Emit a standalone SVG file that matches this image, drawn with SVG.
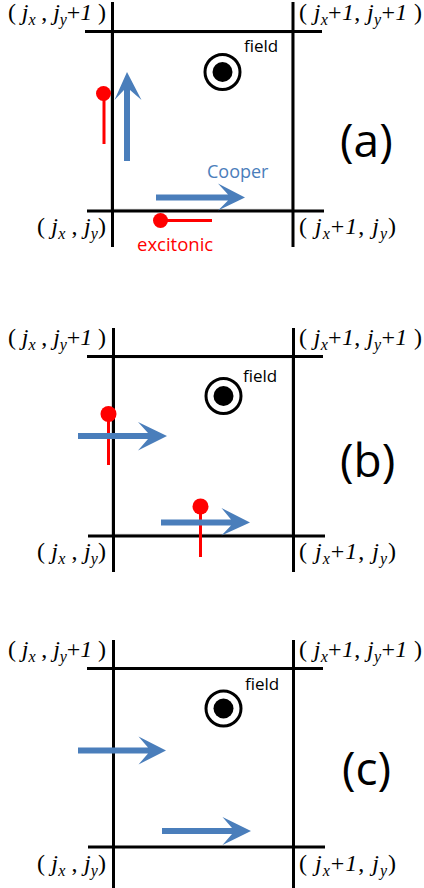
<svg xmlns="http://www.w3.org/2000/svg" width="424" height="888" viewBox="0 0 424 888">
<style>
.grid{stroke:#000;stroke-width:3;fill:none}
.inner{stroke:#c8c8c8;stroke-width:1.5;fill:none}
.pin{stroke:#ff0000;stroke-width:3;fill:none}
.dot{fill:#ff0000}
.arrow{fill:#4a7ebb}
.lbl{font-family:"Liberation Serif","Times New Roman",serif;font-size:24px;fill:#000}
.i{font-style:italic}
.s{font-style:italic;font-size:16px}
.field{font-family:"Open Sans","Liberation Sans",sans-serif;font-size:17px;fill:#000}
.tag{font-family:"Open Sans","Liberation Sans",sans-serif;font-size:46px;fill:#000}
.cooper{font-family:"Open Sans","Liberation Sans",sans-serif;font-size:18px;fill:#4a7ebb}
.exc{font-family:"Open Sans","Liberation Sans",sans-serif;font-size:18.5px;fill:#ff0000}
</style>
<defs>
<g id="fieldsym">
<circle cx="0" cy="0" r="17.5" fill="none" stroke="#000" stroke-width="3"/>
<circle cx="0" cy="0" r="10" fill="#000"/>
</g>
</defs>

<!-- Panel (a) -->
<g id="panel-a">
<g id="a-cell">
<rect class="inner" x="111" y="32.5" width="181" height="177"/>
<line class="grid" x1="112.5" y1="2" x2="112.5" y2="247"/>
<line class="grid" x1="293" y1="2" x2="293" y2="247"/>
<line class="grid" x1="85" y1="31.5" x2="322" y2="31.5"/>
<line class="grid" x1="87" y1="211" x2="324" y2="211"/>
</g>
<g id="a-field">
<use href="#fieldsym" x="222.5" y="72"/>
<text class="field" x="244" y="52">field</text>
</g>
<g id="a-excitonic">
<line class="pin" x1="104" y1="94" x2="104" y2="144"/>
<circle class="dot" cx="103.5" cy="93.5" r="7.5"/>
<line class="pin" x1="160" y1="220.5" x2="212" y2="220.5"/>
<circle class="dot" cx="160.5" cy="220.5" r="7.5"/>
<text class="exc" x="137" y="251">excitonic</text>
</g>
<g id="a-cooper">
<path class="arrow" d="M124,161 L124,90 L114.5,100 L127,72 L141.5,100 L130,90 L130,161 Z"/>
<path class="arrow" d="M156,194.5 L228,194.5 L218,183.5 L245,197.5 L218,210.5 L228,200.5 L156,200.5 Z"/>
<text class="cooper" x="207" y="178">Cooper</text>
</g>
<g id="a-labels">
<text class="lbl" x="8" y="20" textLength="98" lengthAdjust="spacing">( <tspan class="i">j</tspan><tspan class="s" dy="5">x</tspan><tspan dy="-5"> , </tspan><tspan class="i">j</tspan><tspan class="s" dy="5">y</tspan><tspan dy="-5">+</tspan><tspan class="i">1</tspan> )</text>
<text class="lbl" x="299" y="20" textLength="123" lengthAdjust="spacing">( <tspan class="i">j</tspan><tspan class="s" dy="5">x</tspan><tspan dy="-5">+</tspan><tspan class="i">1</tspan>, <tspan class="i">j</tspan><tspan class="s" dy="5">y</tspan><tspan dy="-5">+</tspan><tspan class="i">1</tspan> )</text>
<text class="lbl" x="37" y="234" textLength="69" lengthAdjust="spacing">( <tspan class="i">j</tspan><tspan class="s" dy="5">x</tspan><tspan dy="-5"> , </tspan><tspan class="i">j</tspan><tspan class="s" dy="5">y</tspan><tspan dy="-5">)</tspan></text>
<text class="lbl" x="299" y="234" textLength="97" lengthAdjust="spacing">( <tspan class="i">j</tspan><tspan class="s" dy="5">x</tspan><tspan dy="-5">+</tspan><tspan class="i">1</tspan>, <tspan class="i">j</tspan><tspan class="s" dy="5">y</tspan><tspan dy="-5">)</tspan></text>
<text class="tag" x="340" y="157">(a)</text>
</g>
</g>

<!-- Panel (b) -->
<g id="panel-b">
<g id="b-cell">
<rect class="inner" x="112" y="357.5" width="180" height="177"/>
<line class="grid" x1="113.5" y1="328" x2="113.5" y2="572"/>
<line class="grid" x1="293.5" y1="328" x2="293.5" y2="572"/>
<line class="grid" x1="87" y1="356.5" x2="323" y2="356.5"/>
<line class="grid" x1="88" y1="536" x2="325" y2="536"/>
</g>
<g id="b-field">
<use href="#fieldsym" x="223.5" y="396"/>
<text class="field" x="243" y="382">field</text>
</g>
<g id="b-excitonic">
<line class="pin" x1="108.5" y1="414" x2="108.5" y2="465"/>
<circle class="dot" cx="108.5" cy="414" r="8"/>
<line class="pin" x1="200.5" y1="507" x2="200.5" y2="557"/>
<circle class="dot" cx="200.5" cy="506.5" r="8"/>
</g>
<g id="b-cooper">
<path class="arrow" d="M78,433 L148,433 L138,422 L167,436 L138,450.5 L148,439 L78,439 Z"/>
<path class="arrow" d="M161,519.5 L231,519.5 L221.5,508 L250,522.5 L221.5,535.5 L231,525.5 L161,525.5 Z"/>
</g>
<g id="b-labels">
<text class="lbl" x="8" y="345" textLength="98" lengthAdjust="spacing">( <tspan class="i">j</tspan><tspan class="s" dy="5">x</tspan><tspan dy="-5"> , </tspan><tspan class="i">j</tspan><tspan class="s" dy="5">y</tspan><tspan dy="-5">+</tspan><tspan class="i">1</tspan> )</text>
<text class="lbl" x="299" y="345" textLength="123" lengthAdjust="spacing">( <tspan class="i">j</tspan><tspan class="s" dy="5">x</tspan><tspan dy="-5">+</tspan><tspan class="i">1</tspan>, <tspan class="i">j</tspan><tspan class="s" dy="5">y</tspan><tspan dy="-5">+</tspan><tspan class="i">1</tspan> )</text>
<text class="lbl" x="37" y="559" textLength="69" lengthAdjust="spacing">( <tspan class="i">j</tspan><tspan class="s" dy="5">x</tspan><tspan dy="-5"> , </tspan><tspan class="i">j</tspan><tspan class="s" dy="5">y</tspan><tspan dy="-5">)</tspan></text>
<text class="lbl" x="299" y="559" textLength="97" lengthAdjust="spacing">( <tspan class="i">j</tspan><tspan class="s" dy="5">x</tspan><tspan dy="-5">+</tspan><tspan class="i">1</tspan>, <tspan class="i">j</tspan><tspan class="s" dy="5">y</tspan><tspan dy="-5">)</tspan></text>
<text class="tag" x="340" y="477">(b)</text>
</g>
</g>

<!-- Panel (c) -->
<g id="panel-c">
<g id="c-cell">
<line class="grid" x1="113.5" y1="640" x2="113.5" y2="888"/>
<line class="grid" x1="293.5" y1="640" x2="293.5" y2="888"/>
<line class="grid" x1="87" y1="668.5" x2="323" y2="668.5"/>
<line class="grid" x1="88" y1="847" x2="325" y2="847"/>
</g>
<g id="c-field">
<use href="#fieldsym" x="223.5" y="708.5"/>
<text class="field" x="245" y="690">field</text>
</g>
<g id="c-cooper">
<path class="arrow" d="M78,747.5 L148,747.5 L138.5,736.5 L166,750.5 L138.5,764.5 L148,753.5 L78,753.5 Z"/>
<path class="arrow" d="M162,828 L232,828 L222.5,817 L251,831 L222.5,845 L232,834 L162,834 Z"/>
</g>
<g id="c-labels">
<text class="lbl" x="8" y="657" textLength="98" lengthAdjust="spacing">( <tspan class="i">j</tspan><tspan class="s" dy="5">x</tspan><tspan dy="-5"> , </tspan><tspan class="i">j</tspan><tspan class="s" dy="5">y</tspan><tspan dy="-5">+</tspan><tspan class="i">1</tspan> )</text>
<text class="lbl" x="299" y="657" textLength="123" lengthAdjust="spacing">( <tspan class="i">j</tspan><tspan class="s" dy="5">x</tspan><tspan dy="-5">+</tspan><tspan class="i">1</tspan>, <tspan class="i">j</tspan><tspan class="s" dy="5">y</tspan><tspan dy="-5">+</tspan><tspan class="i">1</tspan> )</text>
<text class="lbl" x="37" y="871" textLength="69" lengthAdjust="spacing">( <tspan class="i">j</tspan><tspan class="s" dy="5">x</tspan><tspan dy="-5"> , </tspan><tspan class="i">j</tspan><tspan class="s" dy="5">y</tspan><tspan dy="-5">)</tspan></text>
<text class="lbl" x="299" y="871" textLength="97" lengthAdjust="spacing">( <tspan class="i">j</tspan><tspan class="s" dy="5">x</tspan><tspan dy="-5">+</tspan><tspan class="i">1</tspan>, <tspan class="i">j</tspan><tspan class="s" dy="5">y</tspan><tspan dy="-5">)</tspan></text>
<text class="tag" x="342" y="785">(c)</text>
</g>
</g>
</svg>
